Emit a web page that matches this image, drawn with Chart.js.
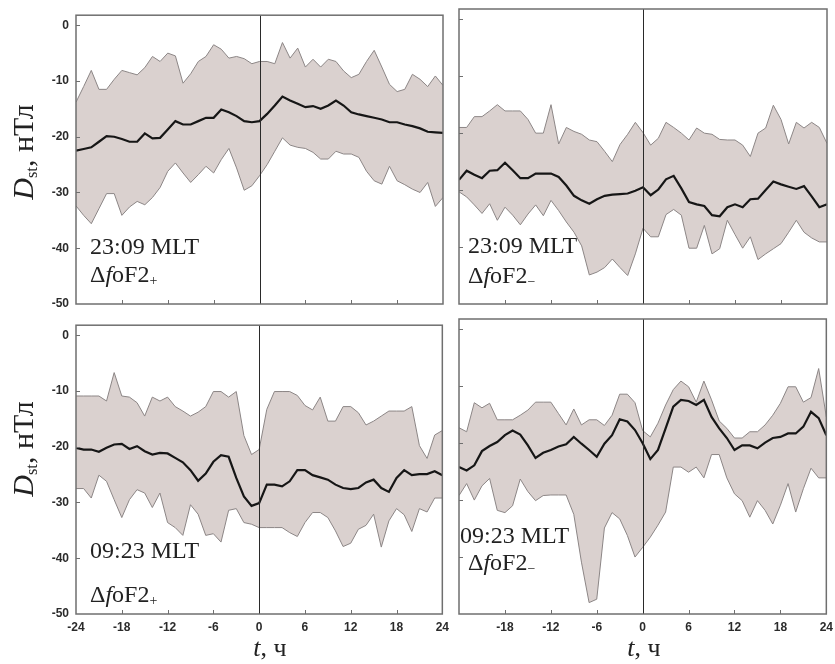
<!DOCTYPE html>
<html>
<head>
<meta charset="utf-8">
<script src="https://cdn.jsdelivr.net/npm/chart.js@4.4.1/dist/chart.umd.min.js"></script>
<style>
  html, body { margin: 0; padding: 0; background: #fff; overflow: hidden; }
  body { width: 835px; height: 664px; position: relative; font-family: 'Liberation Serif', serif; color: #222; }
  .panel { position: absolute; }
  .txt { position: absolute; white-space: nowrap; font-size: 24px; line-height: 24px; }
  .ytitle { position: absolute; white-space: nowrap; font-size: 30px; line-height: 30px;
            transform: translate(-50%, -50%) rotate(-90deg); }
  .xtitle { position: absolute; white-space: nowrap; font-size: 26px; line-height: 26px;
            transform: translate(-50%, -50%); }
  .sb { font-size: 0.55em; position: relative; top: 0.25em; }
  .sg { font-size: 14px; position: relative; top: 3px; }
</style>
</head>
<body>
<div class="panel" id="w1"><canvas id="c1"></canvas></div>
<div class="panel" id="w2"><canvas id="c2"></canvas></div>
<div class="panel" id="w3"><canvas id="c3"></canvas></div>
<div class="panel" id="w4"><canvas id="c4"></canvas></div>

<div class="ytitle" style="left:25px; top:152px;"><i>D</i><span class="sb">st</span>, нТл</div>
<div class="ytitle" style="left:25px; top:449px;"><i>D</i><span class="sb">st</span>, нТл</div>
<div class="xtitle" style="left:270px; top:648px;"><i>t</i>, ч</div>
<div class="xtitle" style="left:644px; top:648px;"><i>t</i>, ч</div>

<div class="txt" style="left:90px; top:234px;">23:09 MLT</div>
<div class="txt" style="left:90px; top:262px;">Δ<i>f</i>oF2<span class="sg">+</span></div>
<div class="txt" style="left:468px; top:233px;">23:09 MLT</div>
<div class="txt" style="left:468px; top:263px;">Δ<i>f</i>oF2<span class="sg">−</span></div>
<div class="txt" style="left:90px; top:538px;">09:23 MLT</div>
<div class="txt" style="left:90px; top:582px;">Δ<i>f</i>oF2<span class="sg">+</span></div>
<div class="txt" style="left:460px; top:523px;">09:23 MLT</div>
<div class="txt" style="left:468px; top:550px;">Δ<i>f</i>oF2<span class="sg">−</span></div>

<script>
// hours relative to the event, -24..24
const hours = [-24, -23, -22, -21, -20, -19, -18, -17, -16, -15, -14, -13, -12, -11, -10, -9, -8, -7, -6, -5, -4, -3, -2, -1,
  0, 1, 2, 3, 4, 5, 6, 7, 8, 9, 10, 11, 12, 13, 14, 15, 16, 17, 18, 19, 20, 21, 22, 23, 24];

const xLabelsLeft = [-24, -18, -12, -6, 0, 6, 12, 18, 24];
const xLabelsRight = [-18, -12, -6, 0, 6, 12, 18, 24];
const xTickMarks = [-18, -12, -6, 6, 12, 18];
const yLabels = [0, -10, -20, -30, -40, -50];
const yTickMarks = [0, -10, -20, -30, -40];

// 23:09 MLT, dfoF2+
const p1Upper = [-13.8, -11.0, -8.1, -11.5, -11.5, -9.7, -8.1, -8.5, -8.9, -7.6, -5.6, -6.5, -5.0, -5.5, -10.4, -8.7, -6.5, -5.6, -3.5, -4.3, -5.9, -5.6, -6.0, -6.9,
  -6.5, -6.5, -6.9, -3.1, -5.9, -4.1, -7.5, -6.1, -7.5, -6.1, -6.5, -8.2, -9.4, -8.8, -6.5, -4.5, -7.5, -10.6, -11.9, -11.5, -8.8, -9.7, -11.0, -9.1, -10.8];
const p1Mean = [-22.5, -22.2, -21.9, -20.9, -19.9, -20.0, -20.4, -20.9, -20.9, -19.4, -20.3, -20.2, -18.7, -17.2, -17.8, -17.8, -17.2, -16.6, -16.6, -15.1, -15.6, -16.3, -17.2, -17.4,
  -17.2, -15.9, -14.4, -12.8, -13.5, -14.1, -14.7, -14.5, -15.0, -14.4, -13.5, -14.4, -15.6, -16.0, -16.3, -16.6, -16.9, -17.4, -17.4, -17.8, -18.1, -18.5, -19.1, -19.2, -19.3];
const p1Lower = [-32.4, -34.1, -35.6, -32.9, -30.2, -30.2, -34.1, -32.6, -31.6, -32.2, -30.9, -29.1, -26.2, -24.7, -26.5, -28.2, -26.8, -25.3, -26.5, -24.1, -22.1, -25.6, -29.6, -28.8,
  -27.0, -25.0, -22.6, -20.2, -21.5, -21.9, -22.1, -22.8, -24.0, -24.0, -22.6, -23.1, -23.1, -23.7, -26.2, -27.9, -28.5, -25.3, -27.9, -28.6, -29.4, -30.0, -28.2, -32.5, -30.9];

// 23:09 MLT, dfoF2-
const p2Upper = [-19.0, -19.0, -17.1, -17.1, -16.1, -15.0, -16.1, -16.1, -16.1, -17.6, -20.0, -20.0, -15.0, -21.9, -19.0, -19.7, -20.2, -21.2, -21.5, -23.2, -25.0, -22.0, -20.2, -18.1,
  -19.9, -22.1, -20.9, -18.1, -19.0, -20.0, -21.2, -19.1, -20.0, -20.2, -21.1, -21.2, -21.2, -22.1, -24.1, -20.0, -19.1, -15.1, -17.6, -21.9, -18.1, -19.1, -18.1, -19.0, -21.8];
const p2Mean = [-28.2, -26.6, -27.3, -27.9, -26.6, -26.5, -25.2, -26.5, -27.9, -27.9, -27.1, -27.1, -27.1, -27.7, -29.2, -31.0, -31.8, -32.4, -31.6, -31.0, -30.8, -30.7, -30.6, -30.1,
  -29.5, -30.9, -29.9, -28.1, -27.5, -29.7, -32.1, -32.5, -32.8, -34.4, -34.6, -33.0, -32.5, -33.0, -31.6, -31.5, -30.0, -28.5, -29.0, -29.4, -29.8, -29.3, -31.1, -33.0, -32.5];
const p2Lower = [-30.3, -31.2, -32.6, -34.1, -32.4, -35.3, -33.0, -34.4, -36.1, -34.2, -32.6, -34.5, -31.8, -33.6, -35.6, -37.4, -39.8, -44.9, -44.4, -43.6, -42.1, -43.6, -45.0, -41.2,
  -36.7, -38.2, -38.2, -34.3, -33.4, -34.4, -40.2, -40.2, -36.2, -41.2, -40.3, -35.3, -37.8, -40.2, -38.2, -42.2, -41.2, -40.3, -39.4, -37.4, -35.3, -37.4, -38.4, -39.1, -39.1];

// 09:23 MLT, dfoF2+
const p3Upper = [-10.9, -10.9, -10.9, -10.9, -11.8, -6.7, -10.9, -11.1, -12.1, -14.5, -11.1, -11.8, -11.1, -12.8, -13.6, -14.5, -13.8, -12.8, -10.1, -10.1, -11.1, -10.1, -18.0, -21.4,
  -20.5, -13.3, -10.1, -10.1, -10.1, -10.8, -12.6, -13.4, -11.1, -15.4, -15.4, -12.8, -12.8, -13.9, -16.1, -15.4, -14.5, -13.6, -13.6, -13.6, -12.8, -19.8, -22.1, -17.9, -17.1];
const p3Mean = [-20.2, -20.5, -20.5, -20.9, -20.2, -19.6, -19.5, -20.4, -19.9, -20.8, -21.4, -21.1, -21.2, -22.0, -22.8, -24.2, -26.1, -24.8, -22.7, -21.5, -21.8, -25.6, -28.9, -30.6,
  -30.1, -26.8, -26.8, -27.1, -26.2, -24.2, -24.2, -25.1, -25.5, -25.9, -26.8, -27.4, -27.6, -27.4, -26.4, -25.9, -27.4, -28.1, -25.6, -24.2, -25.1, -24.9, -24.9, -24.4, -25.1];
const p3Lower = [-27.5, -27.5, -29.2, -25.1, -26.2, -29.5, -32.7, -29.5, -27.7, -28.3, -30.9, -28.3, -33.6, -34.5, -35.9, -30.4, -32.1, -35.9, -35.6, -37.1, -31.4, -31.1, -33.6, -33.9,
  -34.5, -34.5, -34.5, -34.5, -35.4, -36.1, -33.6, -31.8, -31.8, -32.7, -35.1, -37.9, -37.3, -34.8, -34.1, -32.1, -38.0, -33.3, -31.1, -32.2, -35.2, -31.1, -31.7, -29.2, -29.2];

// 09:23 MLT, dfoF2-
const p4Upper = [-17.3, -18.0, -12.9, -13.8, -13.0, -15.9, -15.9, -15.9, -15.1, -14.2, -12.8, -12.8, -12.8, -14.8, -16.8, -14.0, -16.8, -15.9, -15.9, -16.9, -15.1, -11.4, -11.4, -12.9,
  -17.8, -18.9, -16.5, -13.3, -10.6, -9.1, -10.1, -12.8, -9.1, -12.4, -16.1, -17.4, -19.1, -19.1, -18.0, -18.0, -16.8, -15.1, -13.0, -10.1, -10.1, -12.8, -12.0, -6.9, -15.4];
const p4Mean = [-24.2, -24.8, -23.9, -21.4, -20.5, -19.8, -18.6, -17.8, -18.5, -20.4, -22.6, -21.7, -21.2, -20.6, -20.2, -18.9, -20.1, -21.2, -22.4, -20.1, -18.6, -15.8, -16.2, -17.7,
  -20.0, -22.8, -21.2, -17.4, -13.6, -12.4, -12.6, -13.3, -12.4, -15.4, -17.4, -19.1, -21.2, -20.4, -20.4, -20.9, -19.9, -19.1, -18.9, -18.3, -18.3, -17.1, -14.5, -15.6, -18.6];
const p4Lower = [-29.2, -27.1, -30.0, -27.5, -26.2, -31.8, -32.2, -31.0, -26.3, -28.5, -30.1, -29.2, -29.1, -29.1, -29.1, -32.5, -40.9, -48.0, -47.4, -34.9, -32.2, -33.3, -36.2, -40.0,
  -38.3, -36.5, -34.4, -32.1, -24.2, -24.2, -25.1, -24.2, -26.1, -22.0, -22.0, -26.1, -28.9, -30.1, -33.0, -30.1, -31.8, -34.2, -30.9, -27.1, -32.1, -28.0, -24.4, -26.1, -26.1];

const Y_AXIS_W = 40, X_AXIS_H = 24, PAD_TOP = 8, PAD_RIGHT = 12;

// plot boxes on the page
const panels = [
  { id: 1, box: [76, 9, 443, 304],   upper: p1Upper, mean: p1Mean, lower: p1Lower, showY: true,  showX: false, xLabels: xLabelsLeft },
  { id: 2, box: [459, 9, 827, 304],  upper: p2Upper, mean: p2Mean, lower: p2Lower, showY: false, showX: false, xLabels: xLabelsRight },
  { id: 3, box: [76, 319, 443, 614], upper: p3Upper, mean: p3Mean, lower: p3Lower, showY: true,  showX: true,  xLabels: xLabelsLeft },
  { id: 4, box: [459, 319, 827, 614], upper: p4Upper, mean: p4Mean, lower: p4Lower, showY: false, showX: true, xLabels: xLabelsRight }
];

// frame, zero line and inward tick marks
const framePlugin = {
  id: 'frame',
  afterDatasetsDraw(chart) {
    const { ctx, chartArea: a, scales: { x, y } } = chart;
    ctx.save();
    ctx.strokeStyle = '#2a2a2a';
    ctx.lineWidth = 1;
    const x0 = Math.round(x.getPixelForValue(0)) + 0.5;
    ctx.beginPath();
    ctx.moveTo(x0, a.top);
    ctx.lineTo(x0, a.bottom);
    ctx.stroke();

    ctx.strokeStyle = '#6f6f6f';
    ctx.beginPath();
    xTickMarks.forEach(v => {
      const px = Math.round(x.getPixelForValue(v)) + 0.5;
      ctx.moveTo(px, a.bottom);
      ctx.lineTo(px, a.bottom - 4);
    });
    yTickMarks.forEach(v => {
      const py = Math.round(y.getPixelForValue(v)) + 0.5;
      ctx.moveTo(a.left, py);
      ctx.lineTo(a.left + 4, py);
    });
    ctx.stroke();

    ctx.lineWidth = 1.5;
    ctx.strokeRect(a.left, a.top, a.right - a.left, a.bottom - a.top);
    ctx.restore();
  }
};

const tickFont = { family: "'Liberation Sans', Arial, sans-serif", size: 12, weight: 'bold' };

panels.forEach(p => {
  const [L, T, R, B] = p.box;
  const wrap = document.getElementById('w' + p.id);
  wrap.style.left = (L - Y_AXIS_W) + 'px';
  wrap.style.top = (T - PAD_TOP) + 'px';
  wrap.style.width = (R - L + Y_AXIS_W + PAD_RIGHT) + 'px';
  wrap.style.height = (B - T + PAD_TOP + X_AXIS_H) + 'px';

  const pts = arr => hours.map((h, i) => ({ x: h, y: arr[i] }));

  new Chart(document.getElementById('c' + p.id), {
    type: 'line',
    data: {
      datasets: [
        { label: 'mean', data: pts(p.mean), borderColor: '#161616', borderWidth: 2.2, fill: false },
        { label: 'lower', data: pts(p.lower), borderColor: '#8c8686', borderWidth: 1, fill: false },
        { label: 'upper', data: pts(p.upper), borderColor: '#8c8686', borderWidth: 1,
          fill: 1, backgroundColor: '#dad1cf' }
      ]
    },
    options: {
      responsive: true,
      maintainAspectRatio: false,
      animation: false,
      events: [],
      layout: { padding: { top: PAD_TOP, right: PAD_RIGHT, left: 0, bottom: 0 } },
      elements: { point: { radius: 0 }, line: { tension: 0 } },
      plugins: { legend: { display: false }, tooltip: { enabled: false } },
      scales: {
        x: {
          type: 'linear', min: -24, max: 24,
          grid: { display: false, drawTicks: false },
          border: { display: false },
          ticks: { display: p.showX, font: tickFont, color: '#2b2b2b', padding: 6, maxRotation: 0, autoSkip: false },
          afterBuildTicks: s => { s.ticks = p.xLabels.map(v => ({ value: v })); },
          afterFit: s => { s.height = X_AXIS_H; }
        },
        y: {
          type: 'linear', min: -50, max: 1.8,
          grid: { display: false, drawTicks: false },
          border: { display: false },
          ticks: { display: p.showY, font: tickFont, color: '#2b2b2b', padding: 7 },
          afterBuildTicks: s => { s.ticks = yLabels.map(v => ({ value: v })); },
          afterFit: s => { s.width = Y_AXIS_W; }
        }
      }
    },
    plugins: [framePlugin]
  });
});
</script>
</body>
</html>
